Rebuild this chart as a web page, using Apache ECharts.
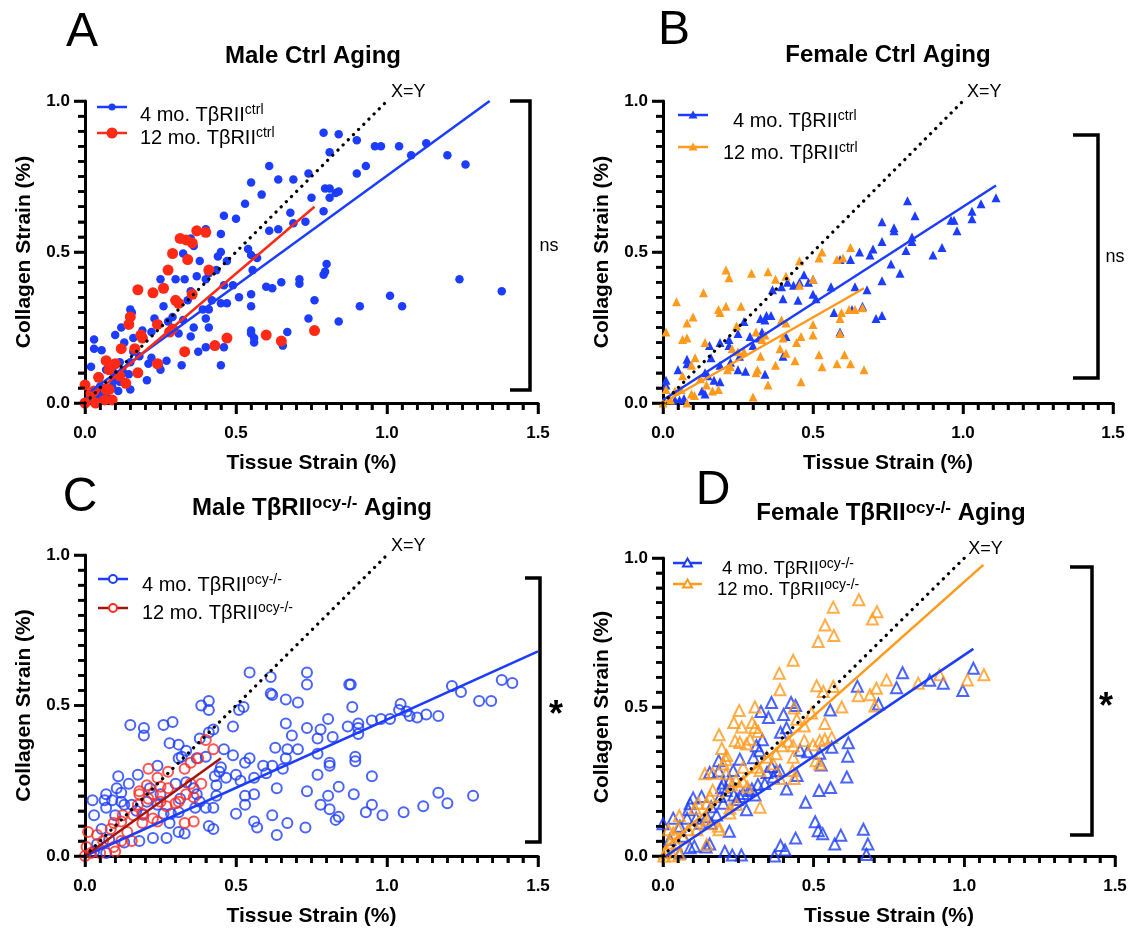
<!DOCTYPE html>
<html><head><meta charset="utf-8">
<script src="https://cdn.jsdelivr.net/npm/echarts@6/dist/echarts.min.js"></script>
<style>html,body{margin:0;padding:0;background:#fff}#c{width:1135px;height:928px}</style>
</head><body><div id="c"></div><script>
// ---------- DATA (x = tissue strain %, y = collagen strain %) ----------
const A_4MO = [[0.79,0.895],[0.84,0.89],[0.81,0.83],[0.90,0.87],[0.96,0.85],[0.98,0.85],[1.04,0.85],[1.08,0.82],[1.13,0.86],[1.20,0.82],[1.26,0.79],[0.90,0.76],[0.93,0.785],[0.61,0.785],[0.64,0.74],[0.69,0.74],[0.74,0.76],[0.55,0.73],[0.585,0.69],[0.53,0.66],[0.795,0.71],[0.81,0.71],[0.83,0.695],[0.84,0.70],[0.81,0.68],[0.75,0.68],[0.79,0.635],[0.68,0.63],[0.46,0.62],[0.50,0.61],[0.69,0.595],[0.73,0.60],[0.61,0.57],[0.64,0.575],[0.45,0.56],[0.40,0.575],[0.36,0.52],[0.35,0.545],[0.325,0.495],[0.54,0.51],[0.55,0.49],[0.57,0.48],[0.555,0.44],[0.45,0.50],[0.44,0.485],[0.47,0.47],[0.38,0.47],[0.37,0.42],[0.40,0.41],[0.33,0.41],[0.25,0.41],[0.30,0.41],[0.46,0.39],[0.49,0.39],[0.51,0.35],[0.55,0.36],[0.60,0.385],[0.62,0.38],[0.65,0.40],[0.71,0.41],[0.71,0.395],[0.80,0.46],[0.795,0.435],[0.79,0.425],[1.24,0.41],[1.38,0.37],[1.01,0.355],[1.05,0.32],[0.91,0.32],[0.76,0.34],[0.74,0.28],[0.84,0.27],[0.67,0.235],[0.655,0.19],[0.56,0.20],[0.56,0.215],[0.55,0.24],[0.55,0.23],[0.55,0.32],[0.47,0.33],[0.45,0.33],[0.42,0.34],[0.41,0.31],[0.39,0.31],[0.40,0.28],[0.35,0.37],[0.34,0.34],[0.36,0.25],[0.31,0.23],[0.35,0.22],[0.325,0.275],[0.29,0.285],[0.26,0.32],[0.23,0.28],[0.24,0.26],[0.22,0.235],[0.19,0.24],[0.15,0.31],[0.155,0.30],[0.12,0.25],[0.10,0.225],[0.13,0.20],[0.16,0.215],[0.16,0.17],[0.18,0.155],[0.21,0.13],[0.245,0.125],[0.22,0.15],[0.25,0.11],[0.27,0.14],[0.32,0.125],[0.275,0.27],[0.375,0.17],[0.40,0.185],[0.46,0.185],[0.45,0.125],[0.11,0.04],[0.205,0.075],[0.145,0.095],[0.15,0.135],[0.115,0.135],[0.125,0.105],[0.07,0.11],[0.095,0.10],[0.02,0.12],[0.03,0.21],[0.03,0.18],[0.055,0.175],[0.095,0.075],[0.115,0.07],[0.15,0.045],[0.05,0.03],[0.04,0.02],[0.015,0.015],[0.005,0.005],[0.07,0.02],[0.05,0.055],[0.09,0.055],[0.41,0.25],[0.435,0.44],[0.41,0.43]];
const A_12MO = [[0.37,0.57],[0.40,0.565],[0.315,0.545],[0.335,0.54],[0.355,0.53],[0.29,0.495],[0.34,0.475],[0.275,0.44],[0.41,0.44],[0.175,0.375],[0.225,0.365],[0.26,0.38],[0.30,0.34],[0.31,0.33],[0.355,0.36],[0.15,0.285],[0.145,0.26],[0.24,0.26],[0.29,0.245],[0.28,0.235],[0.185,0.225],[0.19,0.215],[0.12,0.18],[0.165,0.18],[0.33,0.17],[0.43,0.19],[0.47,0.215],[0.60,0.225],[0.65,0.205],[0.76,0.24],[0.07,0.14],[0.08,0.11],[0.10,0.13],[0.24,0.13],[0.175,0.10],[0.115,0.09],[0.135,0.065],[0.045,0.085],[0.0,0.06],[0.03,0.04],[0.08,0.045],[0.09,0.01],[0.065,0.01],[0.035,0.0],[0.0,0.0],[0.02,0.03],[0.07,0.045]];
const B_4MO = [[0.815,0.67],[0.84,0.62],[0.73,0.60],[0.77,0.58],[0.77,0.57],[0.96,0.605],[0.97,0.605],[1.03,0.61],[1.03,0.635],[1.06,0.66],[1.11,0.68],[0.98,0.57],[0.83,0.55],[0.83,0.535],[0.81,0.505],[0.90,0.49],[0.93,0.515],[0.73,0.535],[0.70,0.51],[0.69,0.49],[0.655,0.50],[0.76,0.46],[0.79,0.43],[0.73,0.405],[0.625,0.475],[0.59,0.475],[0.56,0.385],[0.64,0.385],[0.68,0.375],[0.665,0.32],[0.63,0.31],[0.71,0.28],[0.73,0.29],[0.57,0.30],[0.59,0.235],[0.50,0.36],[0.51,0.345],[0.50,0.41],[0.485,0.40],[0.47,0.425],[0.455,0.40],[0.435,0.39],[0.415,0.40],[0.395,0.385],[0.365,0.375],[0.45,0.34],[0.40,0.345],[0.41,0.22],[0.40,0.155],[0.345,0.29],[0.34,0.275],[0.325,0.28],[0.36,0.29],[0.33,0.235],[0.29,0.22],[0.27,0.27],[0.25,0.23],[0.22,0.19],[0.255,0.155],[0.25,0.11],[0.275,0.105],[0.34,0.095],[0.225,0.135],[0.19,0.20],[0.19,0.07],[0.19,0.125],[0.16,0.15],[0.14,0.10],[0.155,0.19],[0.14,0.03],[0.13,0.04],[0.08,0.145],[0.08,0.13],[0.05,0.11],[0.04,0.01],[0.01,0.075],[0.01,0.06],[0.055,0.01],[0.07,0.015],[0.17,0.075],[0.15,0.09],[0.32,0.215],[0.30,0.19],[0.22,0.21]];
const B_12MO = [[0.625,0.515],[0.53,0.50],[0.52,0.48],[0.58,0.475],[0.60,0.48],[0.455,0.47],[0.21,0.44],[0.22,0.415],[0.295,0.43],[0.35,0.435],[0.375,0.41],[0.41,0.42],[0.455,0.39],[0.50,0.41],[0.045,0.335],[0.135,0.365],[0.185,0.31],[0.19,0.30],[0.21,0.32],[0.26,0.32],[0.10,0.285],[0.08,0.265],[0.01,0.235],[0.065,0.21],[0.08,0.215],[0.14,0.20],[0.23,0.18],[0.395,0.275],[0.41,0.265],[0.46,0.22],[0.445,0.20],[0.50,0.26],[0.50,0.225],[0.52,0.16],[0.53,0.12],[0.58,0.13],[0.605,0.16],[0.625,0.13],[0.67,0.11],[0.59,0.28],[0.595,0.30],[0.62,0.31],[0.64,0.31],[0.665,0.315],[0.59,0.23],[0.40,0.215],[0.41,0.165],[0.44,0.14],[0.46,0.07],[0.375,0.125],[0.35,0.06],[0.31,0.10],[0.315,0.11],[0.30,0.02],[0.27,0.17],[0.34,0.225],[0.33,0.21],[0.31,0.235],[0.325,0.155],[0.225,0.12],[0.215,0.11],[0.185,0.045],[0.165,0.04],[0.145,0.06],[0.125,0.08],[0.095,0.125],[0.107,0.15],[0.065,0.09],[0.06,0.045],[0.04,0.04],[0.105,0.025],[0.08,0.0],[0.01,0.045],[0.0,0.0],[0.025,0.01],[0.095,0.03],[0.245,0.255],[0.25,0.17],[0.39,0.18]];
const C_4MO = [[0.545,0.61],[0.615,0.595],[0.735,0.61],[0.735,0.57],[0.875,0.57],[0.88,0.57],[1.215,0.565],[1.245,0.545],[1.38,0.585],[1.415,0.575],[1.305,0.515],[1.345,0.515],[1.045,0.505],[1.04,0.485],[1.065,0.48],[1.075,0.465],[1.10,0.46],[1.13,0.47],[1.17,0.465],[1.01,0.455],[0.98,0.455],[0.95,0.45],[0.905,0.44],[0.905,0.425],[0.905,0.405],[0.87,0.43],[0.885,0.495],[0.705,0.51],[0.665,0.52],[0.615,0.54],[0.62,0.535],[0.525,0.495],[0.51,0.485],[0.385,0.50],[0.41,0.515],[0.41,0.485],[0.49,0.43],[0.665,0.44],[0.685,0.40],[0.735,0.425],[0.77,0.39],[0.78,0.42],[0.805,0.455],[0.82,0.395],[0.63,0.36],[0.67,0.355],[0.705,0.355],[0.665,0.325],[0.77,0.34],[0.81,0.31],[0.81,0.30],[0.895,0.33],[0.895,0.315],[0.95,0.265],[0.77,0.27],[0.59,0.30],[0.62,0.30],[0.60,0.275],[0.655,0.29],[0.545,0.325],[0.53,0.31],[0.49,0.335],[0.46,0.355],[0.45,0.295],[0.445,0.28],[0.467,0.26],[0.50,0.27],[0.515,0.25],[0.56,0.26],[0.43,0.265],[0.435,0.235],[0.635,0.225],[0.735,0.215],[0.84,0.23],[0.89,0.205],[1.17,0.21],[1.285,0.20],[1.20,0.175],[1.12,0.165],[1.055,0.145],[0.985,0.135],[0.93,0.145],[0.95,0.17],[0.805,0.20],[0.78,0.17],[0.81,0.155],[0.84,0.13],[0.83,0.12],[0.67,0.11],[0.62,0.135],[0.56,0.115],[0.57,0.095],[0.635,0.07],[0.73,0.095],[0.50,0.14],[0.53,0.20],[0.53,0.17],[0.56,0.205],[0.425,0.09],[0.41,0.10],[0.15,0.435],[0.195,0.425],[0.195,0.40],[0.26,0.435],[0.29,0.445],[0.28,0.375],[0.31,0.37],[0.335,0.35],[0.31,0.325],[0.32,0.33],[0.37,0.325],[0.38,0.39],[0.41,0.41],[0.425,0.42],[0.40,0.33],[0.24,0.30],[0.175,0.27],[0.11,0.265],[0.145,0.24],[0.105,0.225],[0.12,0.21],[0.07,0.205],[0.065,0.185],[0.025,0.185],[0.07,0.16],[0.03,0.135],[0.12,0.18],[0.13,0.17],[0.215,0.225],[0.24,0.17],[0.17,0.15],[0.285,0.14],[0.28,0.11],[0.26,0.14],[0.31,0.145],[0.31,0.08],[0.33,0.075],[0.225,0.06],[0.27,0.06],[0.18,0.05],[0.13,0.045],[0.08,0.055],[0.055,0.09],[0.04,0.04],[0.03,0.015],[0.07,0.01],[0.40,0.16],[0.425,0.16],[0.365,0.16],[0.38,0.18],[0.37,0.205],[0.435,0.20],[0.315,0.19],[0.36,0.225],[0.335,0.245],[0.30,0.24],[0.205,0.18],[0.09,0.185],[0.155,0.17],[0.10,0.135],[0.193,0.137],[0.25,0.205]];
const C_12MO = [[0.40,0.385],[0.425,0.355],[0.375,0.325],[0.35,0.31],[0.33,0.29],[0.275,0.28],[0.21,0.29],[0.385,0.24],[0.35,0.24],[0.335,0.205],[0.36,0.195],[0.30,0.175],[0.27,0.165],[0.24,0.26],[0.25,0.23],[0.275,0.225],[0.205,0.235],[0.18,0.215],[0.18,0.205],[0.21,0.19],[0.225,0.205],[0.25,0.18],[0.175,0.17],[0.16,0.135],[0.19,0.11],[0.225,0.125],[0.24,0.115],[0.125,0.135],[0.095,0.11],[0.085,0.09],[0.12,0.115],[0.14,0.08],[0.155,0.05],[0.12,0.05],[0.095,0.03],[0.10,0.015],[0.06,0.05],[0.04,0.07],[0.01,0.08],[0.005,0.03],[0.0,0.0],[0.02,0.01],[0.05,0.01],[0.33,0.11],[0.36,0.115],[0.31,0.18],[0.19,0.14]];
const D_4MO = [[1.03,0.63],[0.995,0.555],[0.93,0.58],[0.885,0.59],[0.795,0.615],[0.775,0.565],[0.645,0.57],[0.555,0.49],[0.715,0.51],[0.36,0.515],[0.325,0.485],[0.35,0.465],[0.40,0.475],[0.425,0.515],[0.44,0.505],[0.41,0.43],[0.39,0.415],[0.33,0.39],[0.31,0.37],[0.255,0.325],[0.185,0.32],[0.185,0.285],[0.155,0.28],[0.20,0.245],[0.195,0.23],[0.21,0.22],[0.235,0.205],[0.245,0.19],[0.277,0.155],[0.305,0.205],[0.295,0.225],[0.315,0.24],[0.345,0.28],[0.36,0.30],[0.377,0.285],[0.41,0.225],[0.445,0.27],[0.455,0.355],[0.48,0.35],[0.52,0.345],[0.525,0.305],[0.56,0.365],[0.615,0.38],[0.613,0.335],[0.61,0.265],[0.556,0.23],[0.518,0.22],[0.473,0.18],[0.505,0.115],[0.515,0.085],[0.53,0.075],[0.57,0.04],[0.59,0.07],[0.665,0.09],[0.68,0.04],[0.675,0.005],[0.44,0.06],[0.39,0.035],[0.405,0.02],[0.37,0.0],[0.26,0.003],[0.23,0.003],[0.205,0.015],[0.143,0.03],[0.155,0.04],[0.104,0.033],[0.09,0.028],[0.056,0.01],[0.22,0.083],[0.10,0.195],[0.09,0.175],[0.084,0.155],[0.034,0.127],[0.0,0.108],[0.056,0.10],[0.11,0.127],[0.145,0.132],[0.123,0.11],[0.16,0.11],[0.178,0.138],[0.16,0.165],[0.20,0.177],[0.255,0.20],[0.266,0.21],[0.285,0.22],[0.338,0.243],[0.366,0.265],[0.388,0.287],[0.32,0.353],[0.30,0.33],[0.233,0.287],[0.222,0.254],[0.128,0.20],[0.067,0.066],[0.023,0.055],[0.19,0.20],[0.08,0.127]];
const D_12MO = [[0.65,0.86],[0.565,0.835],[0.71,0.82],[0.695,0.795],[0.538,0.775],[0.567,0.74],[0.515,0.72],[0.432,0.657],[0.386,0.613],[0.388,0.558],[0.51,0.571],[0.532,0.552],[0.565,0.569],[0.648,0.538],[0.687,0.541],[0.708,0.563],[0.742,0.591],[0.847,0.58],[0.918,0.608],[1.01,0.591],[1.065,0.608],[0.703,0.503],[0.593,0.50],[0.493,0.48],[0.435,0.497],[0.444,0.459],[0.537,0.445],[0.56,0.398],[0.537,0.392],[0.52,0.387],[0.498,0.373],[0.469,0.436],[0.469,0.387],[0.508,0.32],[0.52,0.309],[0.432,0.37],[0.416,0.385],[0.394,0.37],[0.375,0.343],[0.432,0.331],[0.43,0.287],[0.435,0.26],[0.388,0.26],[0.305,0.50],[0.253,0.488],[0.235,0.448],[0.261,0.433],[0.296,0.448],[0.305,0.431],[0.316,0.418],[0.186,0.407],[0.195,0.361],[0.239,0.387],[0.255,0.381],[0.277,0.376],[0.289,0.392],[0.211,0.337],[0.209,0.323],[0.20,0.309],[0.266,0.298],[0.139,0.276],[0.165,0.278],[0.209,0.276],[0.242,0.254],[0.228,0.238],[0.266,0.249],[0.28,0.232],[0.322,0.164],[0.244,0.173],[0.222,0.144],[0.222,0.16],[0.186,0.088],[0.184,0.10],[0.165,0.221],[0.156,0.199],[0.145,0.177],[0.117,0.177],[0.106,0.16],[0.145,0.122],[0.143,0.108],[0.145,0.039],[0.112,0.088],[0.054,0.135],[0.05,0.094],[0.034,0.077],[0.018,0.088],[0.023,0.044],[0.007,0.011],[0.003,0.0],[0.034,0.0],[0.054,0.006],[0.045,0.039],[0.067,0.061],[0.084,0.088],[0.311,0.298],[0.344,0.331],[0.366,0.309],[0.322,0.287]];
// regression fits (endpoints) and identity line
const A_FIT_4MO = [[0.02,0.04],[1.34,1.0]];
const A_FIT_12MO = [[0.02,0.02],[0.76,0.65]];
const B_FIT_4MO = [[0.0,0.01],[1.11,0.72]];
const B_FIT_12MO = [[0.0,0.0],[0.67,0.38]];
const C_FIT_4MO = [[0.0,0.0],[1.5,0.68]];
const C_FIT_12MO = [[0.0,0.0],[0.45,0.325]];
const D_FIT_4MO = [[0.01,0.0],[1.03,0.695]];
const D_FIT_12MO = [[0.0,0.02],[1.063,0.977]];
const IDENTITY = [[0,0],[1,1]];
// axis tick values (major every 0.5, minor every 0.05)
const X_TICKS = [0,0.05,0.1,0.15,0.2,0.25,0.3,0.35,0.4,0.45,0.5,0.55,0.6,0.65,0.7,0.75,0.8,0.85,0.9,0.95,1.0,1.05,1.1,1.15,1.2,1.25,1.3,1.35,1.4,1.45,1.5];
const Y_TICKS = [0,0.05,0.1,0.15,0.2,0.25,0.3,0.35,0.4,0.45,0.5,0.55,0.6,0.65,0.7,0.75,0.8,0.85,0.9,0.95,1.0];
const MAJOR_STEP = 0.5;
const TITLES = ['Male Ctrl Aging','Female Ctrl Aging','Male TβRII|ocy-/-| Aging','Female TβRII|ocy-/-| Aging'];
const SIG = ['ns','ns','*','*'];

// ---------- STYLE ----------
const F = '"Liberation Sans", Arial, Helvetica, sans-serif';
const BLUE = '#1c3dff', RED = '#ff2a16', ORANGE = '#ff9a1c', DARKRED = '#a3140e', CRED = '#ff2a22';
const GRIDS = [
  {left:85, top:101, width:453, height:302},
  {left:663, top:101, width:450, height:302},
  {left:85, top:555, width:453, height:303},
  {left:663, top:558, width:452, height:302}
];
const MAJ_LEN = 11, MIN_LEN = 7, TICK_W = 2.5;
const TICKLINE = {color:'#000',width:TICK_W};

function xAx(i){return {gridIndex:i,type:'value',position:'bottom',min:X_TICKS[0],max:X_TICKS[X_TICKS.length-1],interval:MAJOR_STEP,
  name:'Tissue Strain (%)',nameLocation:'middle',nameGap:50,
  nameTextStyle:{fontSize:21,fontWeight:'bold',color:'#000',fontFamily:F},
  axisLine:{show:true,onZero:false,lineStyle:{color:'#000',width:3}},
  axisTick:{show:true,length:MAJ_LEN,lineStyle:TICKLINE},
  minorTick:{show:true,splitNumber:10,length:MIN_LEN,lineStyle:TICKLINE},
  splitLine:{show:false},minorSplitLine:{show:false},
  axisLabel:{formatter:v=>v.toFixed(1),fontSize:17,fontWeight:'bold',color:'#000',fontFamily:F,margin:22}};}
function yAx(i){return {gridIndex:i,type:'value',position:'left',min:Y_TICKS[0],max:Y_TICKS[Y_TICKS.length-1],interval:MAJOR_STEP,
  name:'Collagen Strain (%)',nameLocation:'middle',nameGap:50,
  nameTextStyle:{fontSize:21,fontWeight:'bold',color:'#000',fontFamily:F},
  axisLine:{show:true,onZero:false,lineStyle:{color:'#000',width:3}},
  axisTick:{show:true,length:MAJ_LEN,lineStyle:TICKLINE},
  minorTick:{show:true,splitNumber:10,length:MIN_LEN,lineStyle:TICKLINE},
  splitLine:{show:false},minorSplitLine:{show:false},
  axisLabel:{formatter:v=>v.toFixed(1),fontSize:17,fontWeight:'bold',color:'#000',fontFamily:F,margin:15}};}

function isMajor(v){return Math.abs(v/MAJOR_STEP - Math.round(v/MAJOR_STEP)) < 1e-6;}
// tick marks also drawn as small rect symbols at tick values (through the axis scale)
function tickSeries(i, dir){
  const data = dir==='x'
    ? X_TICKS.map(v => { const L = isMajor(v)?MAJ_LEN:MIN_LEN; return {value:[v, Y_TICKS[0]], symbolSize:[TICK_W, L], symbolOffset:[0, L/2]}; })
    : Y_TICKS.map(v => { const L = isMajor(v)?MAJ_LEN:MIN_LEN; return {value:[X_TICKS[0], v], symbolSize:[L, TICK_W], symbolOffset:[-L/2, 0]}; });
  return {type:'scatter',xAxisIndex:i,yAxisIndex:i,silent:true,clip:false,z:10,symbol:'rect',
    itemStyle:{color:'#000',opacity:1},data:data};
}
function scat(i,data,symbol,size,fill,stroke){
  return {type:'scatter',xAxisIndex:i,yAxisIndex:i,data:data,symbol:symbol,symbolSize:size,silent:true,
    itemStyle: stroke ? {color:'rgba(0,0,0,0)',borderColor:stroke,borderWidth:2} : {color:fill,opacity:1}};
}
function fit(i,data,color){
  return {type:'line',xAxisIndex:i,yAxisIndex:i,data:data,symbol:'none',silent:true,z:3,lineStyle:{color:color,width:2.5}};
}
function ident(i){
  return {type:'line',xAxisIndex:i,yAxisIndex:i,data:IDENTITY,symbol:'none',silent:true,z:4,
    lineStyle:{color:'#000',width:3.2,type:[0.1,7.2],cap:'round'},
    endLabel:{show:true,formatter:'X=Y',fontSize:18,color:'#000',fontFamily:F,distance:4,offset:[0,-9]}};
}

const series = [
  scat(0,A_4MO,'circle',8.5,BLUE), scat(0,A_12MO,'circle',11,RED),
  fit(0,A_FIT_4MO,BLUE), fit(0,A_FIT_12MO,RED), ident(0),
  scat(1,B_4MO,'triangle',9,BLUE), scat(1,B_12MO,'triangle',9,ORANGE),
  fit(1,B_FIT_4MO,BLUE), fit(1,B_FIT_12MO,ORANGE), ident(1),
  scat(2,C_4MO,'circle',10,null,BLUE), scat(2,C_12MO,'circle',10,null,CRED),
  fit(2,C_FIT_4MO,BLUE), fit(2,C_FIT_12MO,DARKRED), ident(2),
  scat(3,D_4MO,'triangle',11,null,BLUE), scat(3,D_12MO,'triangle',11,null,ORANGE),
  fit(3,D_FIT_4MO,BLUE), fit(3,D_FIT_12MO,ORANGE), ident(3)
];
[0,1,2,3].forEach(i => { series.push(tickSeries(i,'x')); series.push(tickSeries(i,'y')); });

// ---------- annotation graphics ----------
const g = [];
function txt(x,y,text,size,weight,align){
  g.push({type:'text',x:x,y:y,silent:true,style:{text:text,fontSize:size,fontWeight:weight||'normal',fontFamily:F,fill:'#000',align:align||'center',verticalAlign:'middle'}});
}
function richTitle(x,y,t){
  const p = t.split('|');
  let text = '{b|'+p[0]+'}';
  if(p.length>1) text += '{s|'+p[1]+'}{b|'+p[2]+'}';
  g.push({type:'text',x:x,y:y,silent:true,style:{text:text,align:'center',verticalAlign:'middle',
    rich:{b:{fontSize:24,fontWeight:'bold',fontFamily:F,fill:'#000'},
          s:{fontSize:17,fontWeight:'bold',fontFamily:F,fill:'#000',verticalAlign:'top',padding:[0,0,10,0]}}}});
}
function legendItem(x1,x2,y,color,kind,r,tx,ty,label,sup,fs){
  g.push({type:'line',silent:true,shape:{x1:x1,y1:y,x2:x2,y2:y},style:{stroke:kind==='c12'?DARKRED:color,lineWidth:2.5}});
  const cx=(x1+x2)/2;
  if(kind==='dot') g.push({type:'circle',silent:true,shape:{cx:cx,cy:y,r:r},style:{fill:color}});
  else if(kind==='tri') g.push({type:'polygon',silent:true,shape:{points:[[cx,y-r],[cx+r,y+r*0.8],[cx-r,y+r*0.8]]},style:{fill:color}});
  else if(kind==='otri') g.push({type:'polygon',silent:true,shape:{points:[[cx,y-r],[cx+r,y+r*0.8],[cx-r,y+r*0.8]]},style:{fill:'#fff',stroke:color,lineWidth:2}});
  else g.push({type:'circle',silent:true,shape:{cx:cx,cy:y,r:r},style:{fill:'#fff',stroke:color,lineWidth:2}});
  g.push({type:'text',x:tx,y:ty,silent:true,style:{text:'{m|'+label+'}{s|'+sup+'}',align:'left',verticalAlign:'middle',
    rich:{m:{fontSize:fs,fontFamily:F,fill:'#000'},s:{fontSize:14,fontFamily:F,fill:'#000',verticalAlign:'top',padding:[0,0,9,0]}}}});
}
function bracket(x1,x2,y1,y2){
  g.push({type:'polyline',silent:true,shape:{points:[[x1,y1],[x2,y1],[x2,y2],[x1,y2]]},style:{stroke:'#000',lineWidth:3.5,fill:null}});
}
// panel letters
txt(82,33,'A',48); txt(674,31,'B',48); txt(80,498,'C',48); txt(713,491,'D',48);
// titles
richTitle(313,56,TITLES[0]); richTitle(888,55,TITLES[1]); richTitle(312,508,TITLES[2]); richTitle(891,513,TITLES[3]);
// legends
legendItem(97,127,107,BLUE,'dot',3.5,140,115,'4 mo. TβRII','ctrl',20);
legendItem(97,127,133,RED,'dot',5.5,140,138,'12 mo. TβRII','ctrl',20);
legendItem(678,708,115,BLUE,'tri',4.5,733,121,'4 mo. TβRII','ctrl',20);
legendItem(678,708,147,ORANGE,'tri',4.5,723,153,'12 mo. TβRII','ctrl',20);
legendItem(98,128,579,BLUE,'oc',4,142,585,'4 mo. TβRII','ocy-/-',20);
legendItem(98,128,608,CRED,'c12',4,142,613,'12 mo. TβRII','ocy-/-',20);
legendItem(673,702,563,BLUE,'otri',4.5,722,569,'4 mo. TβRII','ocy-/-',18.5);
legendItem(673,702,584,ORANGE,'otri',4.5,717,590,'12 mo. TβRII','ocy-/-',18.5);
// significance brackets
bracket(510,530,101,390); txt(549,246,SIG[0],18);
bracket(1073,1098,135,378); txt(1115,257,SIG[1],18);
bracket(525,540,578,842); txt(556,716,SIG[2],36,'bold');
bracket(1070,1092,567,835); txt(1106,708,SIG[3],36,'bold');

const chart = echarts.init(document.getElementById('c'), null, {renderer:'canvas'});
chart.setOption({
  animation:false, backgroundColor:'#fff',
  grid: GRIDS,
  xAxis: [0,1,2,3].map(xAx),
  yAxis: [0,1,2,3].map(yAx),
  series: series,
  graphic: g
});
</script></body></html>
